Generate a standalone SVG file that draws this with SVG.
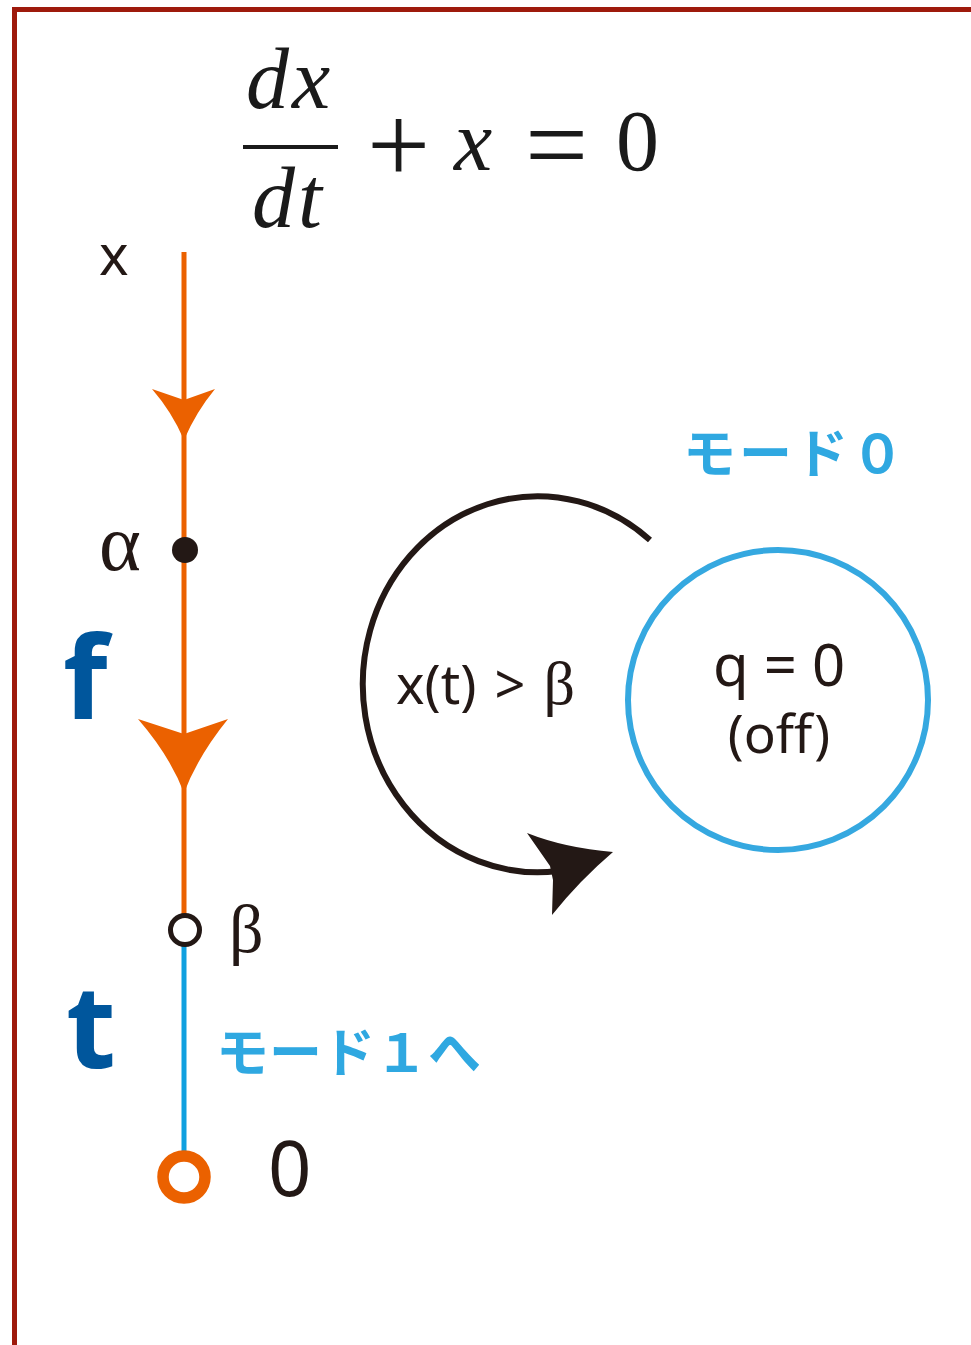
<svg xmlns="http://www.w3.org/2000/svg" width="971" height="1345" viewBox="0 0 971 1345">
<style>
.math{font-family:"Liberation Serif","Times New Roman",serif;font-size:86px;fill:#1a1a1a}
.op{font-family:"Liberation Serif","Times New Roman",serif;font-size:112px;fill:#1a1a1a}
.mi{font-style:italic}
.sans{font-family:"Noto Sans","Open Sans",sans-serif;fill:#231815}
.greek{font-family:"Liberation Serif","Times New Roman",serif;fill:#231815}
.big{font-family:"Noto Sans","Open Sans",sans-serif;font-weight:bold;font-size:115px;fill:#00569c}
.jp{font-family:"Noto Sans CJK JP","Noto Sans",sans-serif;font-weight:bold;font-size:53px;fill:#2fa8e1}
</style>
<rect x="14.5" y="9.5" width="980" height="1360" fill="#ffffff" stroke="#9e1a0c" stroke-width="5"/>
<g id="equation">
<text class="math mi" x="246" y="108" letter-spacing="3">dx</text>
<line x1="243" y1="147" x2="338" y2="147" stroke="#1a1a1a" stroke-width="4"/>
<text class="math mi" x="252" y="227" letter-spacing="3">dt</text>
<text class="op" x="367" y="183">+</text>
<text class="math mi" x="454" y="170">x</text>
<text class="op" x="525" y="182">=</text>
<text class="math" x="616" y="170">0</text>
</g>
<g id="connectors">
<line x1="184" y1="252" x2="184" y2="930" stroke="#eb6100" stroke-width="5"/>
<line x1="184" y1="930" x2="184" y2="1160" stroke="#0fa0e0" stroke-width="5"/>
<path d="M184,440 Q172,412 152,389 L184,400 L215,389 Q196,412 184,440 Z" fill="#eb6100"/>
<path d="M184,793 Q170,756 138,719 L184,734 L228,719 Q198,756 184,793 Z" fill="#eb6100"/>
<path d="M650,540 A175 188 0 1 0 558,871" fill="none" stroke="#231815" stroke-width="6"/>
<path d="M613,852 Q565,848 527,833 L550,866 L553,880 L552,915 Q580,880 613,852 Z" fill="#231815"/>
</g>
<g id="axis-x"><text class="sans" x="99" y="275" font-size="56">x</text></g>
<g id="alpha">
<circle cx="185" cy="550" r="13" fill="#231815"/>
<text class="greek" x="99" y="570" font-size="80">α</text>
</g>
<g id="label-f"><text class="big" x="63" y="718">f</text></g>
<g id="beta">
<circle cx="185" cy="930" r="14.5" fill="#ffffff" stroke="#231815" stroke-width="5"/>
<text class="greek" x="229" y="952" font-size="68">β</text>
</g>
<g id="label-t"><text class="big" x="66" y="1068">t</text></g>
<g id="mode1"><text class="jp" x="216" y="1072">モード１へ</text></g>
<g id="origin">
<circle cx="184" cy="1177" r="21" fill="#ffffff" stroke="#eb6100" stroke-width="11.5"/>
<text class="sans" x="268" y="1196" font-size="76">0</text>
</g>
<g id="condition"><text class="sans" x="396" y="704" font-size="54" word-spacing="4">x(t) &gt; <tspan class="greek" font-size="62">β</tspan></text></g>
<g id="mode0">
<text class="jp" x="683" y="473" letter-spacing="3">モード０</text>
<circle cx="778" cy="700" r="150" fill="#ffffff" stroke="#35a8e0" stroke-width="6"/>
<text class="sans" x="779" y="686" font-size="58" text-anchor="middle">q = 0</text>
<text class="sans" x="779" y="753" font-size="53" text-anchor="middle">(off)</text>
</g>
</svg>
